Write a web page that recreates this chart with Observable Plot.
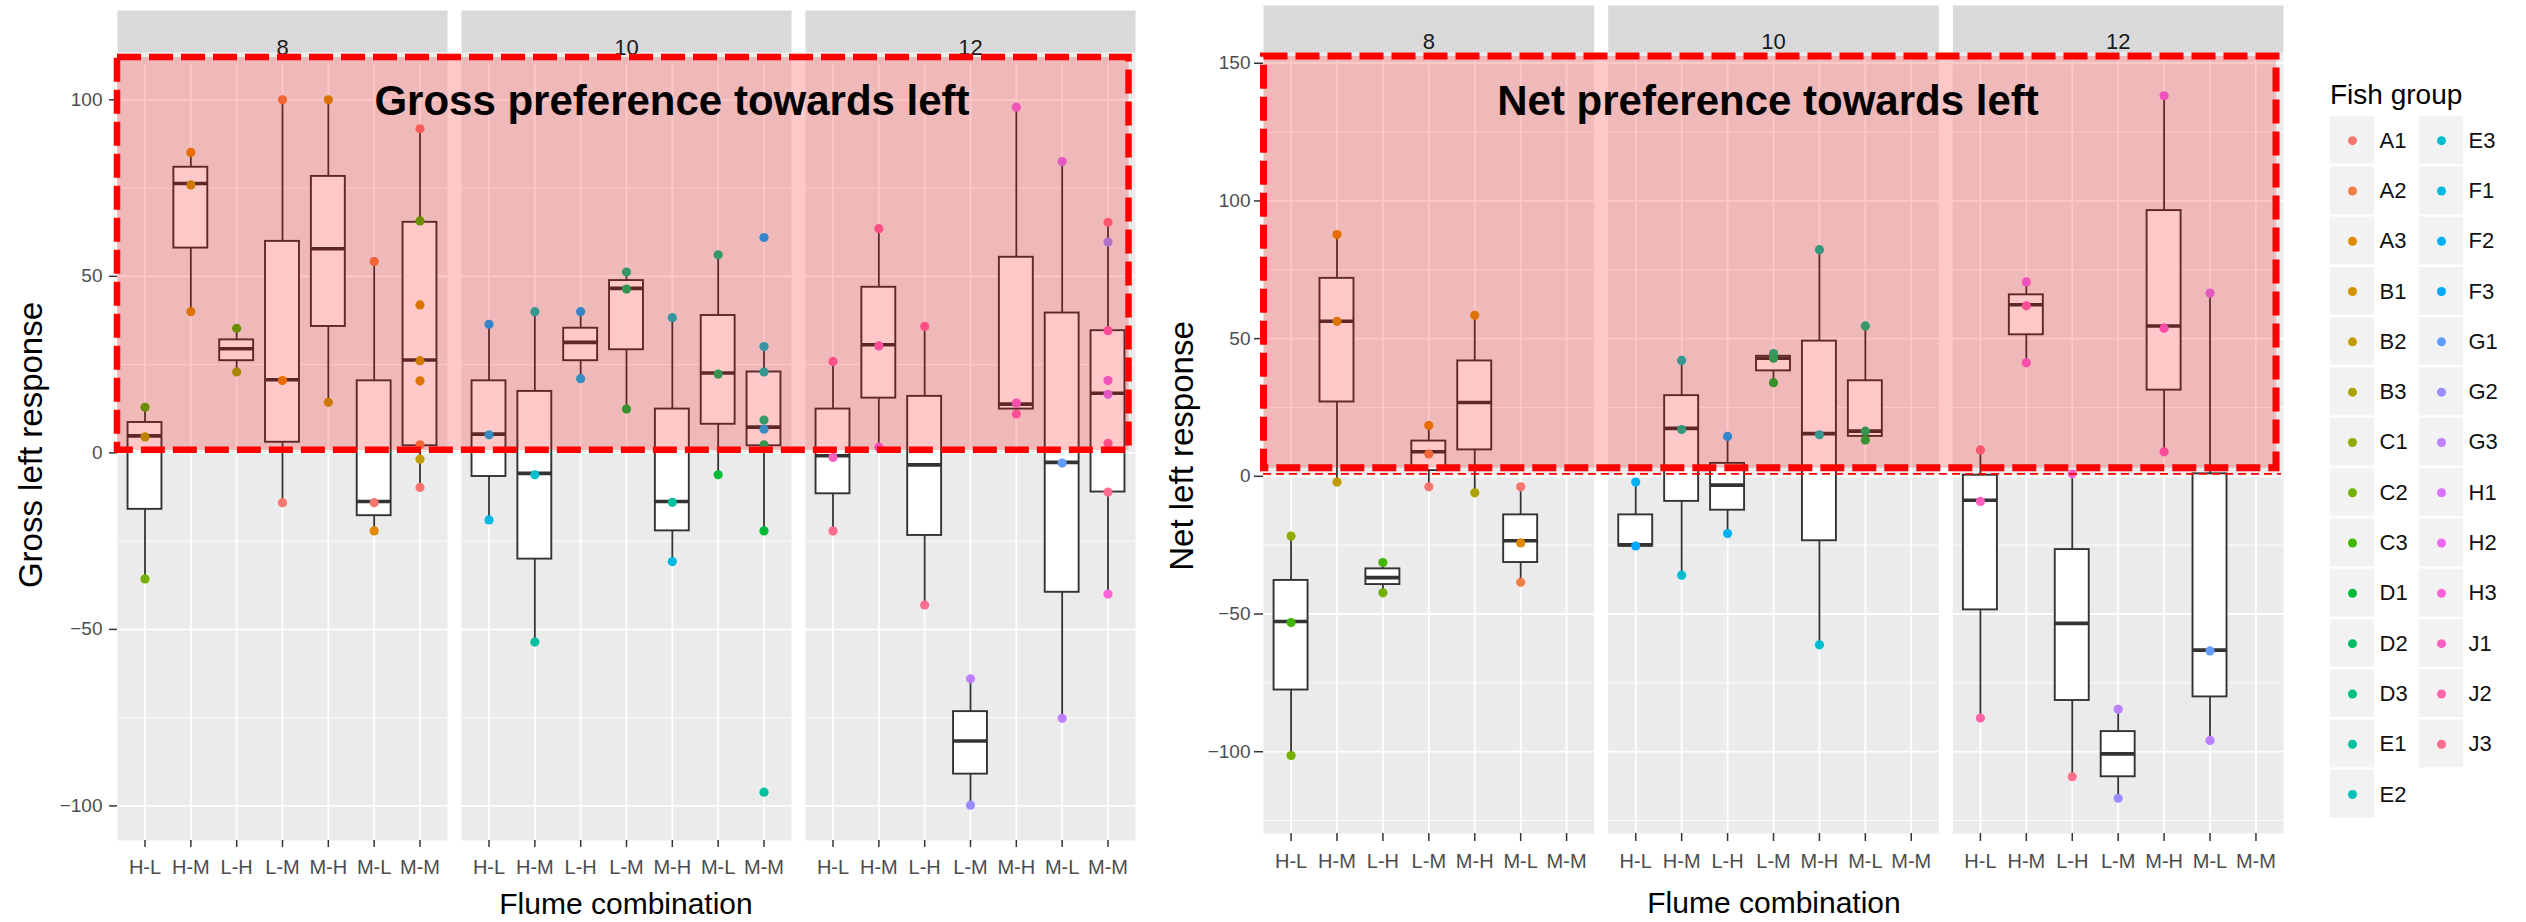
<!DOCTYPE html>
<html><head><meta charset="utf-8">
<script src="https://cdn.jsdelivr.net/npm/d3@7"></script>
<script src="https://cdn.jsdelivr.net/npm/@observablehq/plot@0.6"></script>
<style>
html,body{margin:0;padding:0;background:#fff;}
#page{position:relative;width:2526px;height:922px;overflow:hidden;background:#fff;font-family:"Liberation Sans",Arial,sans-serif;}
.abs{position:absolute;}
</style></head><body><div id="page"></div>
<script>
// ---------------- data ----------------
const facets = [8, 10, 12];
const combos = ["H-L", "H-M", "L-H", "L-M", "M-H", "M-L", "M-M"];
const groups = ["A1","A2","A3","B1","B2","B3","C1","C2","C3","D1","D2","D3","E1","E2",
                "E3","F1","F2","F3","G1","G2","G3","H1","H2","H3","J1","J2","J3"];
const grossTicks = [-100, -50, 0, 50, 100];
const grossMinor = [-75, -25, 25, 75];
const netTicks = [-100, -50, 0, 50, 100, 150];
const netMinor = [-125, -75, -25, 25, 75, 125];

// [facet, combo, whiskerLow, q1, median, q3, whiskerHigh]
const grossBoxes = [
  [8,"H-L",-35.7,-16.0,4.8,8.6,12.9],
  [8,"H-M",40.0,58.0,76.3,80.9,85.1],
  [8,"L-H",22.9,26.1,29.5,32.0,35.3],
  [8,"L-M",-14.1,3.0,20.7,59.9,100],
  [8,"M-H",14.3,35.8,57.8,78.3,100],
  [8,"M-L",-22.1,-17.8,-13.8,20.4,54.2],
  [8,"M-M",-9.8,2.0,26.3,65.3,91.8],
  [10,"H-L",-19.0,-6.7,5.3,20.4,36.4],
  [10,"H-M",-53.6,-30.1,-5.8,17.4,40.0],
  [10,"L-H",21.0,26.1,31.3,35.3,40.0],
  [10,"L-M",12.4,29.2,46.6,48.8,51.2],
  [10,"M-H",-30.8,-22.1,-13.8,12.4,38.3],
  [10,"M-L",-6.2,8.1,22.6,38.9,56.1],
  [10,"M-M",-22.1,2.0,7.3,22.9,30.1],
  [12,"H-L",-22.1,-11.6,-0.8,12.4,25.9],
  [12,"H-M",1.6,15.5,30.6,46.9,63.5],
  [12,"L-H",-43.1,-23.4,-3.4,16.0,35.8],
  [12,"L-M",-99.8,-91.0,-81.6,-73.3,-64.0],
  [12,"M-H",11.0,12.4,13.8,55.4,97.9],
  [12,"M-L",-75.2,-39.5,-2.7,39.6,82.5],
  [12,"M-M",-40.0,-11.1,16.9,34.6,65.3]
];
// [facet, combo, fish group, value]
const grossPoints = [
  [8,"H-L","C3",12.9],[8,"H-L","B3",4.5],[8,"H-L","C2",-35.7],
  [8,"H-M","A3",85.1],[8,"H-M","B2",75.9],[8,"H-M","B1",40.0],
  [8,"L-H","C3",35.3],[8,"L-H","C1",22.9],
  [8,"L-M","A2",100],[8,"L-M","A3",20.5],[8,"L-M","A1",-14.1],
  [8,"M-H","B1",100],[8,"M-H","B2",14.3],
  [8,"M-L","A2",54.2],[8,"M-L","A1",-14.1],[8,"M-L","A3",-22.1],
  [8,"M-M","A1",91.8],[8,"M-M","C3",65.7],[8,"M-M","B1",41.9],[8,"M-M","B2",26.1],
  [8,"M-M","B1",20.4],[8,"M-M","A2",2.3],[8,"M-M","B2",-1.8],[8,"M-M","A1",-9.8],
  [10,"H-L","F3",36.4],[10,"H-L","F2",5.1],[10,"H-L","F1",-19.0],
  [10,"H-M","E2",40.0],[10,"H-M","E3",-6.2],[10,"H-M","E1",-53.6],
  [10,"L-H","F3",40.0],[10,"L-H","F2",21.0],
  [10,"L-M","D3",51.2],[10,"L-M","D2",46.4],[10,"L-M","D1",12.4],
  [10,"M-H","E3",38.3],[10,"M-H","E1",-14.0],[10,"M-H","F1",-30.8],
  [10,"M-L","D3",56.1],[10,"M-L","D2",22.3],[10,"M-L","D1",-6.2],
  [10,"M-M","F3",61.0],[10,"M-M","E3",30.1],[10,"M-M","E2",22.9],[10,"M-M","D3",9.3],
  [10,"M-M","F2",6.7],[10,"M-M","D2",2.3],[10,"M-M","D1",-22.1],[10,"M-M","E1",-96.1],
  [12,"H-L","J2",25.9],[12,"H-L","J1",-1.3],[12,"H-L","J3",-22.1],
  [12,"H-M","J2",63.5],[12,"H-M","J1",30.3],[12,"H-M","H2",1.6],
  [12,"L-H","J2",35.8],[12,"L-H","J3",-43.1],
  [12,"L-M","G3",-64.0],[12,"L-M","G2",-99.8],
  [12,"M-H","H2",97.9],[12,"M-H","H3",14.1],[12,"M-H","J1",11.0],
  [12,"M-L","H1",82.5],[12,"M-L","G1",-2.9],[12,"M-L","G3",-75.2],
  [12,"M-M","J3",65.3],[12,"M-M","G2",59.7],[12,"M-M","J1",34.6],[12,"M-M","H2",20.5],
  [12,"M-M","H1",16.6],[12,"M-M","J2",2.7],[12,"M-M","J3",-11.1],[12,"M-M","H3",-40.0]
];
const netBoxes = [
  [8,"H-L",-101.4,-77.6,-52.7,-37.8,-21.7],
  [8,"H-M",-2.1,27.0,56.3,71.9,87.8],
  [8,"L-H",-42.3,-39.3,-36.8,-33.6,-31.3],
  [8,"L-M",-3.8,2.1,8.9,12.8,18.5],
  [8,"M-H",-6.0,9.6,26.8,41.9,58.5],
  [8,"M-L",-38.5,-31.3,-23.4,-14.0,-3.8],
  [10,"H-L",-25.3,-25.3,-24.9,-14.0,-2.1],
  [10,"H-M",-35.9,-9.1,17.4,29.3,42.1],
  [10,"L-H",-20.8,-12.3,-3.2,4.7,14.5],
  [10,"L-M",34.0,38.3,42.9,43.6,44.6],
  [10,"M-H",-61.2,-23.4,15.5,49.1,82.3],
  [10,"M-L",13.2,14.5,16.4,34.7,54.6],
  [12,"H-L",-87.8,-48.5,-8.7,0.4,9.6],
  [12,"H-M",41.2,51.4,62.3,65.9,70.6],
  [12,"L-H",-109.1,-81.4,-53.4,-26.6,0.9],
  [12,"L-M",-116.9,-109.1,-100.8,-92.7,-84.6],
  [12,"M-H",8.9,31.3,54.6,96.5,138.2],
  [12,"M-L",-95.9,-80.1,-63.1,0.9,66.5]
];
const netPoints = [
  [8,"H-L","C1",-21.7],[8,"H-L","C3",-53.1],[8,"H-L","C2",-101.4],
  [8,"H-M","A3",87.8],[8,"H-M","B1",56.3],[8,"H-M","B2",-2.1],
  [8,"L-H","C3",-31.3],[8,"L-H","C2",-42.3],
  [8,"L-M","A3",18.5],[8,"L-M","A2",8.1],[8,"L-M","A1",-3.8],
  [8,"M-H","B1",58.5],[8,"M-H","B3",-6.0],
  [8,"M-L","A1",-3.8],[8,"M-L","A3",-24.2],[8,"M-L","A2",-38.5],
  [10,"H-L","F2",-2.1],[10,"H-L","F3",-25.3],
  [10,"H-M","E2",42.1],[10,"H-M","E1",17.0],[10,"H-M","E3",-35.9],
  [10,"L-H","F3",14.5],[10,"L-H","F2",-20.8],
  [10,"L-M","D3",44.6],[10,"L-M","D2",42.9],[10,"L-M","D1",34.0],
  [10,"M-H","E1",82.3],[10,"M-H","E2",15.1],[10,"M-H","E3",-61.2],
  [10,"M-L","D3",54.6],[10,"M-L","D2",16.4],[10,"M-L","D1",13.2],
  [12,"H-L","J3",9.6],[12,"H-L","J1",-9.1],[12,"H-L","J2",-87.8],
  [12,"H-M","H2",70.6],[12,"H-M","J1",61.9],[12,"H-M","H3",41.2],
  [12,"L-H","J1",0.9],[12,"L-H","J3",-109.1],
  [12,"L-M","G3",-84.6],[12,"L-M","G2",-116.9],
  [12,"M-H","H2",138.2],[12,"M-H","H3",53.8],[12,"M-H","J1",8.9],
  [12,"M-L","H1",66.5],[12,"M-L","G1",-63.4],[12,"M-L","G3",-95.9]
];

// ---------------- colours (ggplot2 hue palette, polar LUV) ----------------
function hueColor(h, c = 100, l = 65) {
  const hr = h * Math.PI / 180, U = c * Math.cos(hr), V = c * Math.sin(hr);
  const Xn = 95.047, Yn = 100, Zn = 108.883;
  const den = Xn + 15 * Yn + 3 * Zn, un = 4 * Xn / den, vn = 9 * Yn / den;
  const Y = Yn * Math.pow((l + 16) / 116, 3);
  const up = U / (13 * l) + un, vp = V / (13 * l) + vn;
  const X = Y * 9 * up / (4 * vp), Z = Y * (12 - 3 * up - 20 * vp) / (4 * vp);
  const x = X / 100, y = Y / 100, z = Z / 100;
  const lin = [
    3.2404542 * x - 1.5371385 * y - 0.4985314 * z,
    -0.9692660 * x + 1.8760108 * y + 0.0415560 * z,
    0.0556434 * x - 0.2040259 * y + 1.0572252 * z
  ];
  const g = lin.map(v => {
    v = v <= 0.0031308 ? 12.92 * v : 1.055 * Math.pow(v, 1 / 2.4) - 0.055;
    return Math.round(Math.max(0, Math.min(1, v)) * 255);
  });
  return d3.rgb(g[0], g[1], g[2]).formatHex();
}
const palette = groups.map((g, i) => hueColor(15 + i * 360 / groups.length));
const colorScale = {type: "ordinal", domain: groups, range: palette};

const toBox = rows => rows.map(([facet, combo, lo, q1, med, q3, hi]) => ({facet, combo, lo, q1, med, q3, hi}));
const toPts = rows => rows.map(([facet, combo, group, value]) => ({facet, combo, group, value}));

const FONT = "'Liberation Sans', Arial, Helvetica, sans-serif";

function facetChart(o) {
  const H = 922;
  const panelTop = o.marginTop, panelBottom = H - o.marginBottom;
  const panelH = panelBottom - panelTop;
  return Plot.plot({
    width: o.width, height: H,
    marginTop: o.marginTop, marginBottom: o.marginBottom, marginLeft: o.marginLeft, marginRight: o.marginRight,
    style: {fontFamily: FONT, background: "none", overflow: "visible", color: "#333"},
    fx: {domain: facets, paddingInner: 14 / 344, paddingOuter: 0, round: false, axis: null, label: null},
    x: {type: "band", domain: combos, paddingInner: 0.26, paddingOuter: 0.23, round: false, label: null},
    y: {domain: o.domain, label: null},
    color: colorScale,
    marks: [
      Plot.frame({fill: "#EBEBEB", stroke: "none", insetTop: -(panelTop - o.stripBottom)}),
      Plot.frame({fill: "#D9D9D9", stroke: "none", insetTop: -(panelTop - o.stripTop), insetBottom: panelH + (panelTop - o.stripBottom)}),
      Plot.text(facets, {fx: d => d, text: d => String(d), frameAnchor: "top", dy: o.stripDy, fontSize: 22, fill: "#1A1A1A"}),
      Plot.gridY(o.minor, {stroke: "#fff", strokeOpacity: 1, strokeWidth: 0.9}),
      Plot.gridY(o.ticks, {stroke: "#fff", strokeOpacity: 1, strokeWidth: 1.8}),
      Plot.gridX({stroke: "#fff", strokeOpacity: 1, strokeWidth: 1.8}),
      Plot.ruleX(o.boxes, {fx: "facet", x: "combo", y1: "lo", y2: "hi", stroke: "#333", strokeWidth: 1.8}),
      Plot.barY(o.boxes, {fx: "facet", x: "combo", y1: "q1", y2: "q3", fill: "#fff", stroke: "#333", strokeWidth: 1.9}),
      Plot.tickY(o.boxes, {fx: "facet", x: "combo", y: "med", stroke: "#333", strokeWidth: 3.6}),
      Plot.dot(o.points, {fx: "facet", x: "combo", y: "value", fill: "group", r: 4.6}),
      Plot.axisY(o.ticks, {tickSize: o.yTick, tickPadding: o.yPad, fontSize: 19, label: null, stroke: "#333", fill: "#4D4D4D", strokeWidth: 1.5}),
      Plot.axisX({tickSize: o.xTick, tickPadding: o.xPad, fontSize: 20, label: null, stroke: "#333", fill: "#4D4D4D", strokeWidth: 1.5})
    ]
  });
}

const page = document.getElementById("page");

const leftChart = facetChart({
  boxes: toBox(grossBoxes), points: toPts(grossPoints), ticks: grossTicks, minor: grossMinor,
  domain: [-109.8, 110], width: 1150, marginTop: 64, marginBottom: 82, marginLeft: 117, marginRight: 15,
  stripTop: 10, stripBottom: 52, stripDy: -25, yTick: 8, yPad: 7, xTick: 7, xPad: 12
});
leftChart.classList.add("abs");
leftChart.style.left = "0px"; leftChart.style.top = "0px";
page.appendChild(leftChart);

const RIGHT_X = 1160;
const rightChart = facetChart({
  boxes: toBox(netBoxes), points: toPts(netPoints), ticks: netTicks, minor: netMinor,
  domain: [-129.7, 151], width: 1130, marginTop: 60, marginBottom: 89, marginLeft: 103, marginRight: 7,
  stripTop: 5, stripBottom: 52, stripDy: -27, yTick: 9, yPad: 4, xTick: 8, xPad: 12
});
rightChart.classList.add("abs");
rightChart.style.left = RIGHT_X + "px"; rightChart.style.top = "0px";
page.appendChild(rightChart);

// ---------------- legend ----------------
const legendRows = Math.ceil(groups.length / 2);
const legendData = groups.map((g, i) => ({group: g, col: Math.floor(i / legendRows), row: i % legendRows}));
const legend = Plot.plot({
  width: 200, height: 730, margin: 0,
  style: {fontFamily: FONT, background: "none", overflow: "visible"},
  x: {type: "band", domain: [0, 1], range: [10, 188], padding: 0, round: false, axis: null},
  y: {type: "band", domain: d3.range(legendRows), range: [16, 16 + legendRows * 50.3], padding: 0, round: false, axis: null},
  color: colorScale,
  marks: [
    Plot.cell(legendData, {x: "col", y: "row", fill: "#F2F2F2", insetRight: 45, insetBottom: 2.5}),
    Plot.dot(legendData, {x: "col", y: "row", fill: "group", r: 4.5, dx: -22.5, dy: -1}),
    Plot.text(legendData, {x: "col", y: "row", text: "group", textAnchor: "start", dx: 4.5, dy: -1, fontSize: 22, fill: "#111"})
  ]
});
legend.classList.add("abs");
legend.style.left = "2320px"; legend.style.top = "100px";
page.appendChild(legend);

// ---------------- annotations ----------------
const y0L = leftChart.scale("y").apply(0);
const y0R = rightChart.scale("y").apply(0);
const ns = "http://www.w3.org/2000/svg";
const ov = document.createElementNS(ns, "svg");
ov.setAttribute("width", 2526); ov.setAttribute("height", 922);
ov.setAttribute("class", "abs");
ov.style.left = "0px"; ov.style.top = "0px"; ov.style.fontFamily = FONT;
function el(tag, attrs, text) {
  const e = document.createElementNS(ns, tag);
  for (const k in attrs) e.setAttribute(k, attrs[k]);
  if (text != null) e.textContent = text;
  ov.appendChild(e);
  return e;
}
// left highlight box
el("rect", {x: 117, y: 57, width: 1128.5 - 117, height: (y0L - 2.5) - 57,
  fill: "#FF0000", "fill-opacity": 0.21, stroke: "#FF0000", "stroke-width": 6.5, "stroke-dasharray": "24 8"});
// right zero line + highlight box
el("line", {x1: 1263, x2: 2281, y1: y0R - 2, y2: y0R - 2, stroke: "#FF0000", "stroke-width": 1.6, "stroke-dasharray": "8 5"});
el("rect", {x: 1263.5, y: 56, width: 2276 - 1263.5, height: (y0R - 8) - 56,
  fill: "#FF0000", "fill-opacity": 0.21, stroke: "#FF0000", "stroke-width": 7, "stroke-dasharray": "24 8"});
// titles
el("text", {x: 672, y: 115, "text-anchor": "middle", "font-weight": "bold", "font-size": 42, fill: "#000"}, "Gross preference towards left");
el("text", {x: 1768, y: 115, "text-anchor": "middle", "font-weight": "bold", "font-size": 42, fill: "#000"}, "Net preference towards left");
// axis titles
el("text", {x: 626, y: 914, "text-anchor": "middle", "font-size": 30, fill: "#000"}, "Flume combination");
el("text", {x: 1774, y: 913, "text-anchor": "middle", "font-size": 30, fill: "#000"}, "Flume combination");
el("text", {transform: "translate(30,445) rotate(-90)", "text-anchor": "middle", "dominant-baseline": "central", "font-size": 33, fill: "#000"}, "Gross left response");
el("text", {transform: "translate(1181,446) rotate(-90)", "text-anchor": "middle", "dominant-baseline": "central", "font-size": 33, fill: "#000"}, "Net left response");
// legend title
el("text", {x: 2330, y: 94, "dominant-baseline": "central", "font-size": 28, fill: "#000"}, "Fish group");
page.appendChild(ov);
</script></body></html>
